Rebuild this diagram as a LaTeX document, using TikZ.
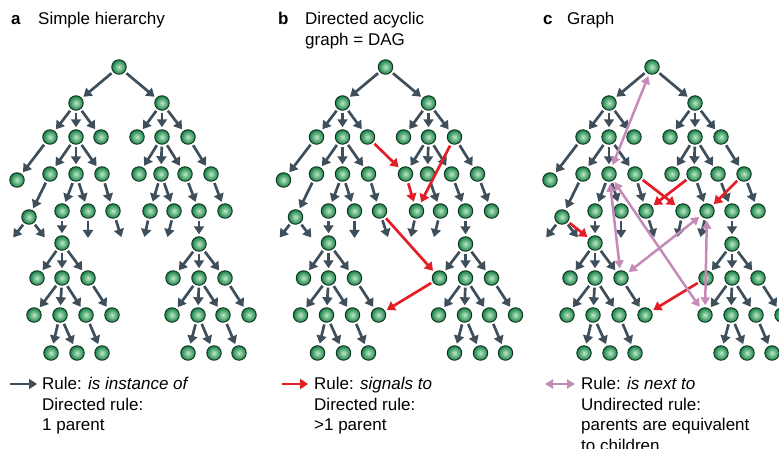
\documentclass[tikz,border=0pt]{standalone}
\usepackage{fontspec}
\setmainfont{Liberation Sans}
\usetikzlibrary{arrows.meta}

\definecolor{isagray}{RGB}{62,79,91}
\definecolor{sigred}{RGB}{226,30,38}
\definecolor{nextpink}{RGB}{196,138,184}
\definecolor{ballin}{RGB}{190,232,200}
\definecolor{ballout}{RGB}{20,128,68}
\definecolor{ballrim}{RGB}{18,50,32}

% node positions of one tree (panel a coordinates)
\newcommand\treenodes{n01/119/67,
  n11/76/103, n12/162/103,
  n21/50/137, n22/76/137, n23/101/137, n24/137/137, n25/162/137, n26/188/137,
  n31/17/180, n32/50/174, n33/76/174, n34/102/174, n35/139/174, n36/161/174, n37/185/174, n38/211/174,
  n41/29/217, n42/62/211, n43/88/211, n44/113/211, n45/150/211, n46/174/211, n47/199/211, n48/225/211,
  n51/62/243, n52/199/244,
  n61/37/278, n62/62/278, n63/88/278, n64/173/278, n65/199/278, n66/225/278,
  n71/34/315, n72/60/315, n73/86/315, n74/112/315, n75/172/315, n76/198/315, n77/223/315, n78/249/315,
  n81/51/353, n82/77/353, n83/102/353, n84/188/353, n85/214/353, n86/239/353}

% parent/child links shared by all three trees
\newcommand\treeedges{n01/n11, n01/n12,
  n11/n21, n11/n22, n11/n23, n12/n24, n12/n25, n12/n26,
  n21/n31, n22/n32, n22/n33, n22/n34, n25/n35, n25/n36, n25/n37, n26/n38,
  n32/n41, n33/n42, n33/n43, n34/n44, n36/n46, n37/n47, n38/n48,
  n42/n51, n47/n52,
  n51/n61, n51/n62, n51/n63, n52/n64, n52/n65, n52/n66,
  n62/n71, n62/n72, n62/n73, n63/n74, n65/n75, n65/n76, n65/n77, n66/n78,
  n72/n81, n72/n82, n73/n83, n76/n84, n76/n85, n77/n86}

% arrows that lead out of the picture
\newcommand\treestubs{n41/s1/12/239, n41/s2/46/239, n43/s3/88/240, n44/s4/122/239,
  n45/s5/144/239, n46/s6/167/239}

\tikzset{
  ball/.style={circle, minimum size=14.5pt, inner sep=0pt, draw=ballrim, line width=0.9pt,
    inner color=ballin, outer color=ballout},
  isa/.style={isagray, line width=2.7pt, -{Triangle[length=8pt,width=10pt]},
    shorten >=2pt, shorten <=2pt},
  signal/.style={isa, sigred},
  nextto/.style={nextpink, line width=2.5pt,
    {Triangle[length=8pt,width=9pt]}-{Triangle[length=8pt,width=9pt]},
    shorten >=2pt, shorten <=2pt},
  legend/.style={anchor=north west, align=left, inner sep=0pt}
}

\begin{document}
\begin{tikzpicture}[x=1pt,y=-1pt,font=\fontsize{17}{20.5}\selectfont]
  \useasboundingbox (0,0) rectangle (779,449);

  % titles
  \node[anchor=base west, inner sep=0pt, font=\fontsize{17}{20.5}\selectfont\bfseries] (la) at (11,25) {a};
  \node[anchor=base west, inner sep=0pt] (ta) at (38,25) {Simple hierarchy};
  \node[anchor=base west, inner sep=0pt, font=\fontsize{17}{20.5}\selectfont\bfseries] (lb) at (278,25) {b};
  \node[legend, anchor=base west] (tb) at (305,45.5) {Directed acyclic\\graph = DAG};
  \node[anchor=base west, inner sep=0pt, font=\fontsize{17}{20.5}\selectfont\bfseries] (lc) at (543,25) {c};
  \node[anchor=base west, inner sep=0pt] (tc) at (567,25) {Graph};

  % a: simple hierarchy
  \begin{scope}[name prefix=a-]
    \foreach \n/\x/\y in \treenodes
      \node[ball] (\n) at (\x,\y) {};
    \foreach \a/\b in \treeedges
      \draw[isa] (\a) -- (\b);
    \foreach \a/\s/\x/\y in \treestubs {
      \coordinate (\s) at (\x,\y);
      \draw[isa] (\a) -- (\s);
    }
    \draw[isa] (n36) -- (n45);
  \end{scope}

  % b: directed acyclic graph
  \begin{scope}[xshift=266.5pt, name prefix=b-]
    \foreach \n/\x/\y in \treenodes
      \node[ball] (\n) at (\x,\y) {};
    \foreach \a/\b in \treeedges
      \draw[isa] (\a) -- (\b);
    \foreach \a/\s/\x/\y in \treestubs {
      \coordinate (\s) at (\x,\y);
      \draw[isa] (\a) -- (\s);
    }
    % signals
    \draw[signal] (n23) -- (n35);
    \draw[signal] (n35) -- (n45);
    \draw[signal] (n26) -- (n45);
    \draw[signal] (n44) -- (n64);
    \draw[signal] (n64) -- (n74);
  \end{scope}

  % c: graph
  \begin{scope}[xshift=533pt, name prefix=c-]
    \foreach \n/\x/\y in \treenodes
      \node[ball] (\n) at (\x,\y) {};
    \foreach \a/\b in \treeedges
      \draw[isa] (\a) -- (\b);
    \foreach \a/\s/\x/\y in \treestubs {
      \coordinate (\s) at (\x,\y);
      \draw[isa] (\a) -- (\s);
    }
    % signals
    \draw[signal] (n34) -- (n45);
    \draw[signal] (n36) -- (n44);
    \draw[signal] (n38) -- (n46);
    \draw[signal] (n41) -- (n51);
    \draw[signal] (n64) -- (n74);
    % neighbours
    \draw[nextto] (n01) -- (n33);
    \draw[nextto] (n33) -- (n63);
    \draw[nextto] (n33) -- (n75);
    \draw[nextto] (n63) -- (n46);
    \draw[nextto] (n46) -- (n75);
  \end{scope}

  % legend
  \coordinate (ka1) at (10,384);
  \coordinate (ka2) at (37,384);
  \draw[isa, shorten >=0pt, shorten <=0pt] (ka1) -- (ka2);
  \node[legend] (ra) at (42,377) {Rule: \textit{is instance of}\\Directed rule:\\1 parent};

  \coordinate (kb1) at (282,384);
  \coordinate (kb2) at (308,384);
  \draw[signal, shorten >=0pt, shorten <=0pt] (kb1) -- (kb2);
  \node[legend] (rb) at (314,377) {Rule: \textit{signals to}\\Directed rule:\\>1 parent};

  \coordinate (kc1) at (545,384);
  \coordinate (kc2) at (575,384);
  \draw[nextto, shorten >=0pt, shorten <=0pt] (kc1) -- (kc2);
  \node[legend] (rc) at (581,377) {Rule: \textit{is next to}\\Undirected rule:\\parents are equivalent\\to children};
\end{tikzpicture}
\end{document}
